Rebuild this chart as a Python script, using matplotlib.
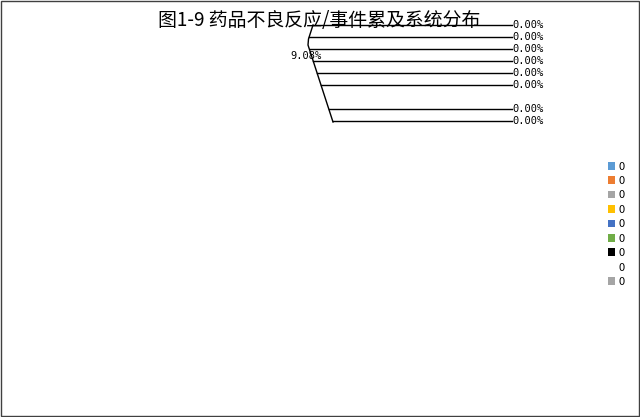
import matplotlib
matplotlib.use("Agg")
import matplotlib.pyplot as plt
from matplotlib.patches import Patch, Rectangle

plt.rcParams['font.family'] = ['Noto Sans CJK SC', 'DejaVu Sans']

title = "图1-9 药品不良反应/事件累及系统分布"

# data labels on the (empty) pie slices
slice_labels = ["0.00%", "0.00%", "0.00%", "0.00%", "0.00%", "0.00%", "0.00%", "0.00%"]
inner_label = "9.08%"

# legend entries
legend_labels = ["0", "0", "0", "0", "0", "0", "0", "0", "0"]
legend_colors = ["#5B9BD5", "#ED7D31", "#A5A5A5", "#FFC000", "#4472C4",
                 "#70AD47", "#000000", "#FFFFFF", "#A5A5A5"]

# leader line geometry (pixel layout)
label_y = [25, 37, 49, 61, 73, 85, 109, 121]
bend_x = [313, 309, 309.5, 313, 317, 321, 329, 333]
line_end = 512

fig = plt.figure(figsize=(6.4, 4.17), dpi=100)
ax = fig.add_axes([0, 0, 1, 1])
ax.set_xlim(0, 640)
ax.set_ylim(417, 0)
ax.axis("off")

ax.add_patch(Rectangle((1, 1), 637.5, 414.5, fill=False, edgecolor="#404040", lw=1))

ax.text(319, 20, title, ha="center", va="center", fontsize=13.6, color="#000000")

# bent leader line path
ax.plot([313, 308.5, 308, 333], [25, 39, 45, 122], color="black", lw=1)
for y, x0, lab in zip(label_y, bend_x, slice_labels):
    ax.plot([x0, line_end], [y, y], color="black", lw=1)
    ax.text(line_end, y, lab, ha="left", va="center", fontsize=7.5, family="DejaVu Sans Mono")

ax.text(290, 56, inner_label, ha="left", va="center", fontsize=7.5, family="DejaVu Sans Mono")

handles = [Patch(facecolor=c, edgecolor="none") for c in legend_colors]
ax.legend(handles, legend_labels, loc="upper left", bbox_to_anchor=(602 / 640, 1 - 156 / 417),
          frameon=False, fontsize=8, handlelength=0.7, handleheight=0.7,
          handletextpad=0.3, labelspacing=0.4, borderpad=0)

fig.savefig("out.png", dpi=100)
